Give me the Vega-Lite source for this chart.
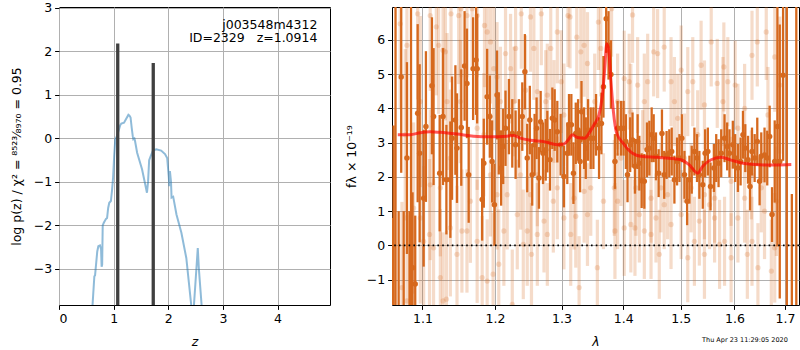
{
"$schema": "https://vega.github.io/schema/vega-lite/v6.json",
"padding": {"left": 9, "top": 1, "right": 1, "bottom": 0},
"spacing": 62,
"bounds": "flush",
"config": {
 "font": "DejaVu Sans",
 "view": {"stroke": "#000", "strokeWidth": 1},
 "axis": {"grid": true, "gridColor": "#b0b0b0", "gridWidth": 1, "domain": false, "tickColor": "#000", "tickSize": 4.4, "labelPadding": 3, "labelFontSize": 12.5, "labelColor": "#000", "labelFont": "DejaVu Sans", "titleFont": "DejaVu Sans", "titleFontSize": 12.5, "titleColor": "#000", "titleFontWeight": "normal"}
},
"datasets": {
 "pz": [{"z":0.58,"p":-4.5},{"z":0.647,"p":-3.17},{"z":0.66,"p":-3.15},{"z":0.70,"p":-2.6},{"z":0.72,"p":-2.48},{"z":0.75,"p":-2.46},{"z":0.77,"p":-2.55},{"z":0.78,"p":-2.95},{"z":0.79,"p":-2.9},{"z":0.80,"p":-2.0},{"z":0.82,"p":-1.94},{"z":0.86,"p":-1.85},{"z":0.88,"p":-1.83},{"z":0.90,"p":-1.6},{"z":0.92,"p":-1.48},{"z":0.95,"p":-1.44},{"z":0.97,"p":-1.2},{"z":0.99,"p":-0.9},{"z":1.01,"p":-0.4},{"z":1.03,"p":-0.02},{"z":1.06,"p":0.05},{"z":1.08,"p":0.13},{"z":1.12,"p":0.30},{"z":1.14,"p":0.34},{"z":1.19,"p":0.36},{"z":1.23,"p":0.45},{"z":1.27,"p":0.54},{"z":1.29,"p":0.52},{"z":1.31,"p":0.48},{"z":1.33,"p":0.25},{"z":1.35,"p":0.05},{"z":1.36,"p":-0.02},{"z":1.38,"p":0.0},{"z":1.39,"p":-0.05},{"z":1.43,"p":-0.33},{"z":1.52,"p":-0.71},{"z":1.61,"p":-1.25},{"z":1.63,"p":-1.0},{"z":1.65,"p":-0.5},{"z":1.68,"p":-0.4},{"z":1.72,"p":-0.28},{"z":1.78,"p":-0.25},{"z":1.87,"p":-0.28},{"z":1.94,"p":-0.36},{"z":1.98,"p":-0.45},{"z":2.01,"p":-0.9},{"z":2.02,"p":-1.1},{"z":2.03,"p":-0.75},{"z":2.05,"p":-1.0},{"z":2.06,"p":-1.36},{"z":2.09,"p":-1.34},{"z":2.15,"p":-1.75},{"z":2.24,"p":-2.17},{"z":2.33,"p":-2.75},{"z":2.42,"p":-3.83},{"z":2.45,"p":-4.5},{"z":2.47,"p":-3.83},{"z":2.52,"p":-2.9},{"z":2.54,"p":-2.52},{"z":2.56,"p":-3.0},{"z":2.61,"p":-3.83},{"z":2.65,"p":-4.5}],
 "bars": [{"z":1.075,"p":2.18},{"z":1.725,"p":1.73}],
 "model": [{"l":1.0679,"f":3.23},{"l":1.0838,"f":3.23},{"l":1.0970,"f":3.29},{"l":1.1103,"f":3.32},{"l":1.1237,"f":3.30},{"l":1.1466,"f":3.25},{"l":1.1697,"f":3.19},{"l":1.1935,"f":3.17},{"l":1.2177,"f":3.19},{"l":1.2275,"f":3.21},{"l":1.2374,"f":3.13},{"l":1.2524,"f":3.07},{"l":1.2727,"f":3.03},{"l":1.2934,"f":2.94},{"l":1.3037,"f":2.96},{"l":1.3116,"f":3.11},{"l":1.3169,"f":3.23},{"l":1.3249,"f":3.15},{"l":1.3366,"f":3.13},{"l":1.3435,"f":3.27},{"l":1.3516,"f":3.52},{"l":1.3598,"f":3.81},{"l":1.3654,"f":4.39},{"l":1.3692,"f":5.16},{"l":1.3725,"f":5.89},{"l":1.3758,"f":5.70},{"l":1.3791,"f":4.87},{"l":1.3836,"f":3.90},{"l":1.3891,"f":3.27},{"l":1.4000,"f":2.98},{"l":1.4157,"f":2.69},{"l":1.4299,"f":2.60},{"l":1.4590,"f":2.57},{"l":1.4885,"f":2.53},{"l":1.5005,"f":2.50},{"l":1.5156,"f":2.35},{"l":1.5310,"f":2.11},{"l":1.5403,"f":2.31},{"l":1.5558,"f":2.50},{"l":1.5746,"f":2.57},{"l":1.5937,"f":2.49},{"l":1.6195,"f":2.39},{"l":1.6589,"f":2.35},{"l":1.6859,"f":2.35},{"l":1.7131,"f":2.36}],
 "edge": [{"l":1.0610,"f":-1.0,"e":1.8},{"l":1.0625,"f":0.5,"e":3.0},{"l":1.0650,"f":2.0,"e":5.5},{"l":1.0690,"f":-0.5,"e":1.5},{"l":1.0755,"f":-1.0,"e":2.0},{"l":1.0830,"f":-0.5,"e":1.5},{"l":1.0850,"f":1.5,"e":5.5},{"l":1.7039,"f":2.5,"e":5.5},{"l":1.7142,"f":-1.0,"e":2.5},{"l":1.7234,"f":2.5,"e":6.0}],
 "dark": [{"l":1.0723,"f":4.92,"e":2.8},{"l":1.0797,"f":2.55,"e":2.8},{"l":1.0870,"f":-0.65,"e":2.2},{"l":1.0905,"f":-1.13,"e":2.0},{"l":1.0937,"f":3.86,"e":2.6},{"l":1.0963,"f":2.69,"e":2.6},{"l":1.1016,"f":1.38,"e":2.0},{"l":1.1046,"f":3.47,"e":2.2},{"l":1.1126,"f":4.66,"e":2.0},{"l":1.1148,"f":3.76,"e":2.0},{"l":1.1230,"f":2.11,"e":1.7},{"l":1.1275,"f":3.76,"e":2.0},{"l":1.1321,"f":1.92,"e":1.6},{"l":1.1375,"f":1.92,"e":1.7},{"l":1.1398,"f":3.13,"e":1.8},{"l":1.1444,"f":3.66,"e":1.6},{"l":1.1466,"f":2.84,"e":1.6},{"l":1.1525,"f":3.44,"e":1.7},{"l":1.1571,"f":5.24,"e":1.6},{"l":1.1604,"f":4.73,"e":1.6},{"l":1.1628,"f":2.06,"e":1.4},{"l":1.1690,"f":5.16,"e":1.5},{"l":1.1732,"f":5.41,"e":1.6},{"l":1.1747,"f":5.16,"e":1.6},{"l":1.1818,"f":1.34,"e":1.2},{"l":1.1841,"f":2.40,"e":1.3},{"l":1.1889,"f":4.34,"e":1.4},{"l":1.1927,"f":3.76,"e":1.2},{"l":1.1960,"f":2.45,"e":1.2},{"l":1.1993,"f":1.19,"e":1.2},{"l":1.2031,"f":4.39,"e":1.3},{"l":1.2056,"f":3.27,"e":1.2},{"l":1.2090,"f":2.26,"e":1.1},{"l":1.2120,"f":2.89,"e":1.1},{"l":1.2154,"f":3.42,"e":1.1},{"l":1.2204,"f":3.76,"e":1.1},{"l":1.2253,"f":3.27,"e":1.0},{"l":1.2302,"f":2.94,"e":1.0},{"l":1.2352,"f":3.27,"e":1.0},{"l":1.2401,"f":3.76,"e":1.0},{"l":1.2440,"f":5.07,"e":1.1},{"l":1.2475,"f":2.55,"e":1.0},{"l":1.2514,"f":3.66,"e":1.0},{"l":1.2550,"f":2.06,"e":0.9},{"l":1.2586,"f":2.94,"e":0.9},{"l":1.2616,"f":3.42,"e":0.9},{"l":1.2652,"f":1.97,"e":0.9},{"l":1.2678,"f":3.61,"e":0.9},{"l":1.2714,"f":2.69,"e":0.9},{"l":1.2755,"f":2.79,"e":0.9},{"l":1.2780,"f":3.03,"e":0.9},{"l":1.2821,"f":2.50,"e":0.9},{"l":1.2857,"f":3.71,"e":0.9},{"l":1.2893,"f":3.66,"e":0.9},{"l":1.2934,"f":3.32,"e":0.9},{"l":1.2986,"f":2.94,"e":0.9},{"l":1.3037,"f":2.01,"e":0.9},{"l":1.3090,"f":2.69,"e":0.9},{"l":1.3117,"f":3.52,"e":0.9},{"l":1.3154,"f":3.52,"e":0.9},{"l":1.3187,"f":2.11,"e":0.9},{"l":1.3224,"f":3.27,"e":0.9},{"l":1.3261,"f":3.37,"e":0.9},{"l":1.3293,"f":2.45,"e":0.9},{"l":1.3315,"f":3.90,"e":0.9},{"l":1.3357,"f":3.13,"e":0.9},{"l":1.3384,"f":2.84,"e":0.9},{"l":1.3421,"f":3.37,"e":0.9},{"l":1.3464,"f":3.13,"e":0.9},{"l":1.3507,"f":3.13,"e":0.9},{"l":1.3550,"f":3.52,"e":0.9},{"l":1.3599,"f":2.84,"e":0.9},{"l":1.3638,"f":3.56,"e":0.9},{"l":1.3671,"f":4.63,"e":0.9},{"l":1.3716,"f":6.62,"e":1.0},{"l":1.3755,"f":5.84,"e":1.0},{"l":1.3794,"f":4.99,"e":1.0},{"l":1.3861,"f":2.45,"e":0.8},{"l":1.3905,"f":3.42,"e":0.8},{"l":1.3961,"f":3.42,"e":0.8},{"l":1.4005,"f":3.42,"e":0.8},{"l":1.4044,"f":3.03,"e":0.8},{"l":1.4072,"f":2.06,"e":0.8},{"l":1.4117,"f":2.94,"e":0.8},{"l":1.4157,"f":3.08,"e":0.8},{"l":1.4198,"f":2.31,"e":0.8},{"l":1.4244,"f":3.03,"e":0.8},{"l":1.4273,"f":2.40,"e":0.8},{"l":1.4313,"f":1.89,"e":0.8},{"l":1.4359,"f":1.87,"e":0.8},{"l":1.4405,"f":2.79,"e":0.8},{"l":1.4446,"f":2.84,"e":0.8},{"l":1.4486,"f":3.23,"e":0.8},{"l":1.4521,"f":3.13,"e":0.7},{"l":1.4561,"f":2.60,"e":0.7},{"l":1.4608,"f":2.11,"e":0.7},{"l":1.4666,"f":3.27,"e":0.7},{"l":1.4706,"f":2.06,"e":0.7},{"l":1.4748,"f":2.64,"e":0.7},{"l":1.4796,"f":2.69,"e":0.7},{"l":1.4839,"f":2.74,"e":0.7},{"l":1.4887,"f":1.92,"e":0.7},{"l":1.4935,"f":2.45,"e":0.7},{"l":1.4977,"f":2.55,"e":0.7},{"l":1.5020,"f":3.13,"e":0.7},{"l":1.5068,"f":2.06,"e":0.7},{"l":1.5116,"f":1.29,"e":0.7},{"l":1.5158,"f":1.92,"e":0.7},{"l":1.5200,"f":2.21,"e":0.7},{"l":1.5249,"f":2.74,"e":0.7},{"l":1.5297,"f":2.55,"e":0.7},{"l":1.5340,"f":2.06,"e":0.7},{"l":1.5403,"f":1.77,"e":0.7},{"l":1.5447,"f":2.69,"e":0.7},{"l":1.5497,"f":2.74,"e":0.7},{"l":1.5547,"f":1.72,"e":0.7},{"l":1.5610,"f":2.26,"e":0.7},{"l":1.5654,"f":2.55,"e":0.7},{"l":1.5698,"f":2.40,"e":0.7},{"l":1.5748,"f":2.69,"e":0.7},{"l":1.5811,"f":3.13,"e":0.7},{"l":1.5861,"f":2.89,"e":0.7},{"l":1.5905,"f":2.69,"e":0.7},{"l":1.5969,"f":2.94,"e":0.7},{"l":1.6014,"f":2.55,"e":0.7},{"l":1.6067,"f":2.26,"e":0.7},{"l":1.6119,"f":2.45,"e":0.7},{"l":1.6165,"f":3.23,"e":0.7},{"l":1.6210,"f":2.84,"e":0.7},{"l":1.6263,"f":2.50,"e":0.7},{"l":1.6302,"f":1.72,"e":0.7},{"l":1.6341,"f":2.74,"e":0.7},{"l":1.6393,"f":2.55,"e":0.7},{"l":1.6445,"f":3.03,"e":0.7},{"l":1.6491,"f":1.87,"e":0.7},{"l":1.6524,"f":2.60,"e":0.7},{"l":1.6589,"f":2.64,"e":0.8},{"l":1.6643,"f":2.55,"e":0.8},{"l":1.6691,"f":3.18,"e":0.9},{"l":1.6739,"f":0.90,"e":0.8},{"l":1.6793,"f":2.45,"e":1.2},{"l":1.6847,"f":3.47,"e":3.5},{"l":1.6895,"f":2.45,"e":4.0},{"l":1.6963,"f":4.97,"e":2.5}],
 "faded": [{"l":1.0710,"f":6.47,"e":2.5},{"l":1.0797,"f":5.84,"e":2.5},{"l":1.0937,"f":6.76,"e":2.5},{"l":1.1103,"f":6.71,"e":2.2},{"l":1.1185,"f":6.38,"e":2.0},{"l":1.1216,"f":5.84,"e":2.0},{"l":1.1275,"f":5.70,"e":2.0},{"l":1.1307,"f":5.65,"e":2.0},{"l":1.1330,"f":4.20,"e":2.0},{"l":1.1384,"f":6.76,"e":2.0},{"l":1.1489,"f":6.71,"e":2.0},{"l":1.1521,"f":6.91,"e":2.0},{"l":1.1604,"f":6.71,"e":1.8},{"l":1.1676,"f":6.91,"e":1.8},{"l":1.1747,"f":6.71,"e":1.8},{"l":1.1851,"f":6.42,"e":1.8},{"l":1.1889,"f":6.23,"e":1.8},{"l":1.1936,"f":5.94,"e":1.8},{"l":1.1984,"f":5.16,"e":1.8},{"l":1.2031,"f":4.92,"e":1.6},{"l":1.2080,"f":4.20,"e":1.6},{"l":1.2154,"f":5.60,"e":1.6},{"l":1.2228,"f":5.16,"e":1.6},{"l":1.2302,"f":5.75,"e":1.6},{"l":1.2386,"f":6.76,"e":1.6},{"l":1.2450,"f":4.53,"e":1.6},{"l":1.2524,"f":6.67,"e":1.6},{"l":1.2575,"f":5.75,"e":1.5},{"l":1.2627,"f":4.49,"e":1.5},{"l":1.2688,"f":6.76,"e":1.5},{"l":1.2755,"f":4.20,"e":1.5},{"l":1.2832,"f":5.75,"e":1.5},{"l":1.2883,"f":3.91,"e":1.5},{"l":1.2934,"f":6.23,"e":1.5},{"l":1.2996,"f":4.78,"e":1.5},{"l":1.3101,"f":6.71,"e":1.5},{"l":1.3133,"f":6.67,"e":1.5},{"l":1.3240,"f":6.08,"e":1.5},{"l":1.3304,"f":5.65,"e":1.5},{"l":1.3357,"f":5.84,"e":1.5},{"l":1.3411,"f":5.31,"e":1.5},{"l":1.3528,"f":4.20,"e":1.4},{"l":1.3588,"f":6.52,"e":1.4},{"l":1.3627,"f":5.75,"e":1.4},{"l":1.3805,"f":6.91,"e":1.4},{"l":1.3905,"f":4.20,"e":1.4},{"l":1.4016,"f":4.87,"e":1.4},{"l":1.4100,"f":4.78,"e":1.4},{"l":1.4157,"f":6.73,"e":1.4},{"l":1.4244,"f":4.68,"e":1.4},{"l":1.4359,"f":4.20,"e":1.4},{"l":1.4417,"f":4.78,"e":1.4},{"l":1.4521,"f":5.65,"e":1.3},{"l":1.4590,"f":5.60,"e":1.3},{"l":1.4706,"f":5.79,"e":1.3},{"l":1.4827,"f":4.78,"e":1.3},{"l":1.4887,"f":4.20,"e":1.3},{"l":1.5008,"f":5.12,"e":1.3},{"l":1.5128,"f":4.49,"e":1.3},{"l":1.5219,"f":4.78,"e":1.3},{"l":1.5372,"f":5.26,"e":1.3},{"l":1.5434,"f":4.10,"e":1.3},{"l":1.5560,"f":5.94,"e":1.3},{"l":1.5673,"f":4.73,"e":1.3},{"l":1.5798,"f":5.21,"e":1.3},{"l":1.5873,"f":4.78,"e":1.3},{"l":1.6014,"f":4.68,"e":1.3},{"l":1.6197,"f":4.00,"e":1.3},{"l":1.6341,"f":5.55,"e":1.3},{"l":1.6445,"f":5.94,"e":1.3},{"l":1.6623,"f":6.23,"e":1.4},{"l":1.6793,"f":5.50,"e":1.6},{"l":1.6895,"f":4.68,"e":2.0},
  {"l":1.0732,"f":-1.23,"e":2.5},{"l":1.0797,"f":-1.62,"e":2.5},{"l":1.0884,"f":1.09,"e":2.5},{"l":1.0972,"f":0.80,"e":2.5},{"l":1.1016,"f":0.12,"e":2.2},{"l":1.1094,"f":0.32,"e":2.2},{"l":1.1148,"f":-0.07,"e":2.0},{"l":1.1239,"f":-0.94,"e":2.0},{"l":1.1275,"f":-1.62,"e":2.0},{"l":1.1321,"f":-1.57,"e":2.0},{"l":1.1375,"f":0.51,"e":2.0},{"l":1.1466,"f":-0.26,"e":2.0},{"l":1.1534,"f":0.42,"e":1.8},{"l":1.1604,"f":0.42,"e":1.8},{"l":1.1747,"f":0.12,"e":1.8},{"l":1.1818,"f":-0.94,"e":1.8},{"l":1.1889,"f":-1.04,"e":1.8},{"l":1.1974,"f":-0.84,"e":1.8},{"l":1.2056,"f":-0.55,"e":1.6},{"l":1.2130,"f":0.42,"e":1.6},{"l":1.2253,"f":-1.72,"e":1.6},{"l":1.2327,"f":0.90,"e":1.6},{"l":1.2416,"f":0.03,"e":1.6},{"l":1.2475,"f":0.42,"e":1.6},{"l":1.2539,"f":-0.26,"e":1.5},{"l":1.2627,"f":0.32,"e":1.5},{"l":1.2729,"f":0.71,"e":1.5},{"l":1.2780,"f":0.32,"e":1.5},{"l":1.2872,"f":1.29,"e":1.5},{"l":1.3037,"f":0.80,"e":1.5},{"l":1.3144,"f":0.32,"e":1.5},{"l":1.3224,"f":0.85,"e":1.5},{"l":1.3277,"f":-1.23,"e":1.5},{"l":1.3411,"f":0.90,"e":1.5},{"l":1.3571,"f":-0.65,"e":1.4},{"l":1.3671,"f":1.29,"e":1.4},{"l":1.3861,"f":0.42,"e":1.4},{"l":1.3905,"f":1.29,"e":1.4},{"l":1.4016,"f":0.51,"e":1.4},{"l":1.4128,"f":0.61,"e":1.4},{"l":1.4198,"f":0.51,"e":1.4},{"l":1.4273,"f":0.90,"e":1.4},{"l":1.4359,"f":0.42,"e":1.4},{"l":1.4475,"f":0.32,"e":1.3},{"l":1.4561,"f":0.80,"e":1.3},{"l":1.4619,"f":-0.26,"e":1.3},{"l":1.4706,"f":1.19,"e":1.3},{"l":1.4827,"f":0.61,"e":1.3},{"l":1.5008,"f":0.90,"e":1.3},{"l":1.5128,"f":-0.36,"e":1.3},{"l":1.5249,"f":0.12,"e":1.3},{"l":1.5340,"f":0.71,"e":1.3},{"l":1.5434,"f":-0.26,"e":1.3},{"l":1.5528,"f":1.19,"e":1.3},{"l":1.5623,"f":0.80,"e":1.3},{"l":1.5717,"f":0.03,"e":1.3},{"l":1.5811,"f":0.12,"e":1.3},{"l":1.5936,"f":-0.36,"e":1.3},{"l":1.6067,"f":0.80,"e":1.3},{"l":1.6250,"f":-0.26,"e":1.3},{"l":1.6341,"f":0.12,"e":1.3},{"l":1.6458,"f":-0.65,"e":1.3},{"l":1.6589,"f":1.00,"e":1.4},{"l":1.6725,"f":-0.75,"e":1.5},{"l":1.6793,"f":-0.07,"e":1.6},
  {"l":1.0775,"f":3.23,"e":2.5},{"l":1.0972,"f":4.20,"e":2.5},{"l":1.1103,"f":1.77,"e":2.2},{"l":1.1239,"f":1.68,"e":2.0},{"l":1.1375,"f":2.55,"e":2.0},{"l":1.1512,"f":4.20,"e":1.8},{"l":1.1652,"f":1.29,"e":1.8},{"l":1.1747,"f":3.42,"e":1.8},{"l":1.1841,"f":3.23,"e":1.8},{"l":1.1936,"f":2.06,"e":1.8},{"l":1.2031,"f":1.48,"e":1.6},{"l":1.2179,"f":1.48,"e":1.6},{"l":1.2277,"f":4.20,"e":1.6},{"l":1.2376,"f":2.06,"e":1.6},{"l":1.2524,"f":1.48,"e":1.5},{"l":1.2627,"f":2.06,"e":1.5},{"l":1.2780,"f":4.39,"e":1.5},{"l":1.2934,"f":1.68,"e":1.5},{"l":1.3037,"f":3.81,"e":1.5},{"l":1.3197,"f":1.38,"e":1.5},{"l":1.3357,"f":1.58,"e":1.5},{"l":1.3464,"f":1.68,"e":1.4},{"l":1.3850,"f":1.68,"e":1.4},{"l":1.3961,"f":2.55,"e":1.4},{"l":1.4128,"f":3.90,"e":1.4},{"l":1.4215,"f":1.68,"e":1.4},{"l":1.4330,"f":2.55,"e":1.4},{"l":1.4475,"f":1.38,"e":1.3},{"l":1.4648,"f":1.68,"e":1.3},{"l":1.4766,"f":1.48,"e":1.3},{"l":1.4947,"f":3.71,"e":1.3},{"l":1.5068,"f":2.55,"e":1.3},{"l":1.5188,"f":1.68,"e":1.3},{"l":1.5309,"f":3.23,"e":1.3},{"l":1.5434,"f":1.48,"e":1.3},{"l":1.5623,"f":1.38,"e":1.3},{"l":1.5780,"f":4.20,"e":1.3},{"l":1.5936,"f":1.87,"e":1.3},{"l":1.6067,"f":3.42,"e":1.3},{"l":1.6197,"f":1.38,"e":1.3},{"l":1.6328,"f":2.06,"e":1.3},{"l":1.6524,"f":1.68,"e":1.3},{"l":1.6657,"f":3.81,"e":1.4},{"l":1.6827,"f":1.29,"e":1.6}]
},
"hconcat": [
 {
  "width": 271, "height": 298,
  "layer": [
   {"data": {"name": "pz"},
    "mark": {"type": "line", "stroke": "#1f77b4", "opacity": 0.5, "strokeWidth": 2, "clip": true},
    "encoding": {
     "x": {"field": "z", "type": "quantitative", "scale": {"domain": [0, 4.96], "nice": false, "zero": false}, "axis": {"values": [0,1,2,3,4], "format": "d", "titleFontStyle": "italic", "titlePadding": 11}, "title": "z"},
     "y": {"field": "p", "type": "quantitative", "scale": {"domain": [-3.83, 3.02], "nice": false, "zero": false}, "axis": {"values": [-3,-2,-1,0,1,2,3], "format": "d", "titlePadding": 10}, "title": "log p(z) / χ² = ⁸⁵²³⁄₈₉₇₀ = 0.95"}
    }},
   {"data": {"name": "bars"},
    "mark": {"type": "rule", "color": "#404040", "strokeWidth": 3.3, "clip": true},
    "encoding": {
     "x": {"field": "z", "type": "quantitative", "title": "z"},
     "y": {"field": "p", "type": "quantitative", "title": "log p(z) / χ² = ⁸⁵²³⁄₈₉₇₀ = 0.95"},
     "y2": {"datum": -10}
    }},
   {"data": {"values": [{}]},
    "mark": {"type": "text", "align": "right", "baseline": "alphabetic", "fontSize": 12.5, "lineHeight": 13.5, "color": "#000"},
    "encoding": {
     "x": {"datum": 4.73},
     "y": {"datum": 2.52},
     "text": {"value": ["j003548m4312", "ID=2329\u00a0\u00a0\u00a0z=1.0914"]}
    }}
  ]
 },
 {
  "width": 407, "height": 298,
  "title": {"text": "Thu Apr 23 11:29:05 2020", "orient": "bottom", "anchor": "end", "fontSize": 6.5, "fontWeight": "normal", "color": "#000", "offset": -11, "dx": -12},
  "layer": [
   {"data": {"name": "faded"},
    "mark": {"type": "errorbar", "color": "#d6691e", "opacity": 0.24, "thickness": 3.2, "clip": true},
    "encoding": {
     "x": {"field": "l", "type": "quantitative", "scale": {"type": "log", "domain": [1.0605, 1.729], "nice": false, "zero": false}, "axis": {"values": [1.1,1.2,1.3,1.4,1.5,1.6,1.7], "format": ".1f", "titleFontStyle": "italic", "titlePadding": 11}, "title": "λ"},
     "y": {"field": "f", "type": "quantitative", "scale": {"domain": [-1.74, 6.96], "nice": false, "zero": false}, "axis": {"values": [-1,0,1,2,3,4,5,6], "format": "d", "titlePadding": 8}, "title": "fλ × 10⁻¹⁹"},
     "yError": {"field": "e"}
    }},
   {"data": {"name": "faded"},
    "mark": {"type": "point", "filled": true, "color": "#d6691e", "opacity": 0.22, "size": 28, "clip": true},
    "encoding": {
     "x": {"field": "l", "type": "quantitative", "title": "λ"},
     "y": {"field": "f", "type": "quantitative", "title": "fλ × 10⁻¹⁹"}
    }},
   {"data": {"name": "edge"},
    "mark": {"type": "errorbar", "color": "#d6691e", "thickness": 2.3, "clip": true},
    "encoding": {
     "x": {"field": "l", "type": "quantitative", "title": "λ"},
     "y": {"field": "f", "type": "quantitative", "title": "fλ × 10⁻¹⁹"},
     "yError": {"field": "e"}
    }},
   {"data": {"name": "dark"},
    "mark": {"type": "errorbar", "color": "#d6691e", "thickness": 2.3, "clip": true},
    "encoding": {
     "x": {"field": "l", "type": "quantitative", "title": "λ"},
     "y": {"field": "f", "type": "quantitative", "title": "fλ × 10⁻¹⁹"},
     "yError": {"field": "e"}
    }},
   {"data": {"name": "dark"},
    "mark": {"type": "point", "filled": true, "color": "#d6691e", "opacity": 1, "size": 30, "clip": true},
    "encoding": {
     "x": {"field": "l", "type": "quantitative", "title": "λ"},
     "y": {"field": "f", "type": "quantitative", "title": "fλ × 10⁻¹⁹"}
    }},
   {"data": {"name": "model"},
    "mark": {"type": "line", "stroke": "#ff0000", "opacity": 0.65, "strokeWidth": 3, "interpolate": "monotone", "clip": true},
    "encoding": {
     "x": {"field": "l", "type": "quantitative", "title": "λ"},
     "y": {"field": "f", "type": "quantitative", "title": "fλ × 10⁻¹⁹"}
    }},
   {"data": {"values": [{}]},
    "mark": {"type": "rule", "color": "#000", "strokeWidth": 1.6, "strokeDash": [1.6, 3.2]},
    "encoding": {"y": {"datum": 0}}}
  ]
 }
]
}
